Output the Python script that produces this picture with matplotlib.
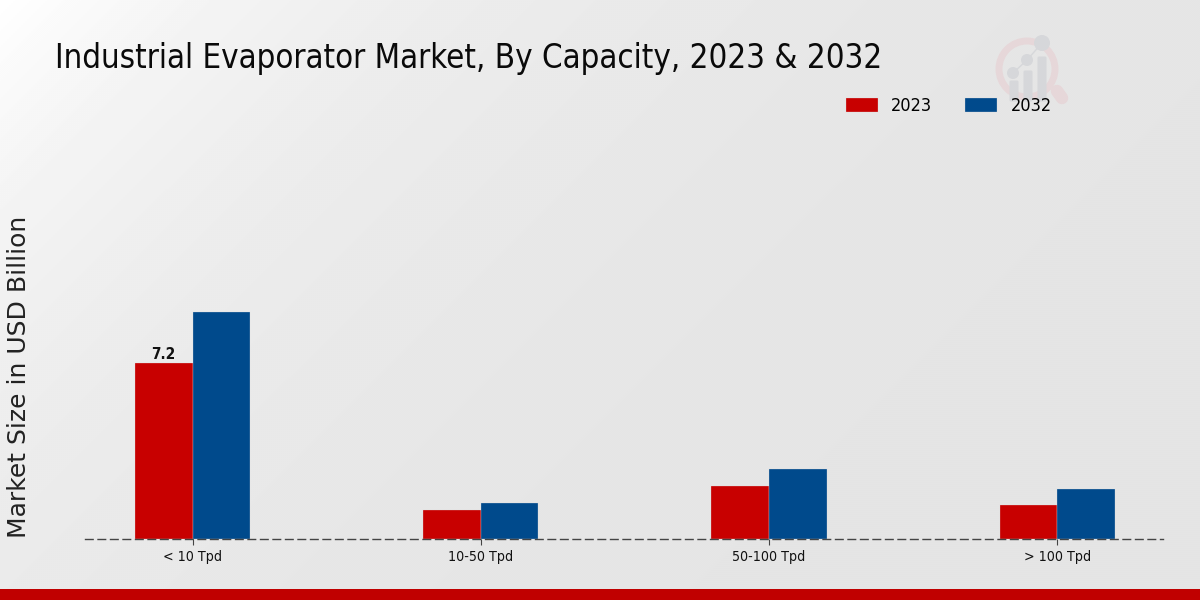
import numpy as np
import matplotlib
matplotlib.use("Agg")
import matplotlib.pyplot as plt
from matplotlib.patches import Circle, FancyBboxPatch, Rectangle

categories = ["< 10 Tpd", "10-50 Tpd", "50-100 Tpd", "> 100 Tpd"]
years = ["2023", "2032"]
values_2023 = [7.2, 1.19, 2.17, 1.39]
values_2032 = [9.29, 1.47, 2.86, 2.05]
colors = ["#C80000", "#004A8C"]
title = "Industrial Evaporator Market, By Capacity, 2023 & 2032"
ylabel = "Market Size in USD Billion"

W, H = 1200, 600
fig = plt.figure(figsize=(12, 6), dpi=100)

# background + decorations in pixel coordinates
bg = fig.add_axes([0, 0, 1, 1], zorder=0)
bg.axis("off")
yy, xx = np.mgrid[0:H:300j, 0:W:600j]
d = xx + yy
shade = 228 + 27 * np.exp(-d / 400)
bg.imshow(shade, extent=(0, W, H, 0), cmap="gray", vmin=0, vmax=255, aspect="auto",
          interpolation="bilinear", zorder=0)
bg.set_xlim(0, W); bg.set_ylim(H, 0)
bg.add_patch(Rectangle((0, 589), W, 11, color="#C00000", lw=0, zorder=1))
# watermark logo
bg.add_patch(Circle((1027, 69), 28, fill=False, ec="#E6D7D9", lw=5, zorder=1))
bg.plot([1057, 1062], [91, 98], color="#E6D7D9", lw=9, solid_capstyle="round", zorder=1)
for bx, top, r, cx, cy in [(1014, 82, 6, 1013, 73), (1028, 72, 6, 1027, 60), (1042, 58, 8, 1042, 43)]:
    bg.add_patch(FancyBboxPatch((bx - 3, top), 6, 100 - top, boxstyle="round,pad=1.5",
                                fc="#D6D7DA", ec="none", zorder=2))
    bg.add_patch(Circle((cx, cy), r, fc="#D6D7DA", ec="none", zorder=2))
bg.plot([1013, 1027, 1042], [73, 60, 43], color="#D6D7DA", lw=1, zorder=2)

# main chart
L, R, B, T = 85, 1163, 539, 130
ax = fig.add_axes([L / W, 1 - B / H, (R - L) / W, (B - T) / H], zorder=1)
ax.patch.set_alpha(0)
x = np.arange(len(categories))
w = 0.2
ax.bar(x - w / 2, values_2023, w, color=colors[0], edgecolor="#DDDDDD", linewidth=0.2)
ax.bar(x + w / 2, values_2032, w, color=colors[1], edgecolor="#DDDDDD", linewidth=0.2)
ax.set_xlim(-0.373, 3.367)
ax.set_ylim(0, (B - T) / 24.44)
ax.set_yticks([])
for s in ["top", "left", "right"]:
    ax.spines[s].set_visible(False)
ax.spines["bottom"].set_linestyle((0, (5.5, 3.5)))
ax.spines["bottom"].set_color("#444444")
ax.spines["bottom"].set_linewidth(1.0)
ax.set_xticks(x)
ax.set_xticklabels(categories, fontsize=10.2, fontstretch="condensed", color="#111111")
ax.tick_params(axis="x", length=4, width=0.8, color="#444444", pad=4)
ax.annotate(f"{values_2023[0]}", (x[0] - w / 2, values_2023[0]), xytext=(0, 1), textcoords="offset points",
            ha="center", va="bottom", fontsize=11, fontweight="bold", fontstretch="condensed", color="#111111")

fig.text(55 / W, 1 - 58.5 / H, title, fontsize=23.7, fontstretch="condensed", va="center", ha="left", color="#0A0A0A")
fig.text(19 / W, 1 - 377 / H, ylabel, fontsize=18, rotation=90, va="center", ha="center", color="#222222")

# legend
handles = [Rectangle((0, 0), 1, 1, fc=c, ec="#DDDDDD", lw=0.2) for c in colors]
fig.legend(handles, years, loc="center left", bbox_to_anchor=(846 / W, 1 - 106 / H), ncol=2, frameon=False,
           prop={"size": 13, "stretch": "condensed"}, handlelength=1.77, handleheight=0.78,
           columnspacing=1.85, handletextpad=0.72, borderpad=0, borderaxespad=0)

fig.savefig("out.png", dpi=100)
